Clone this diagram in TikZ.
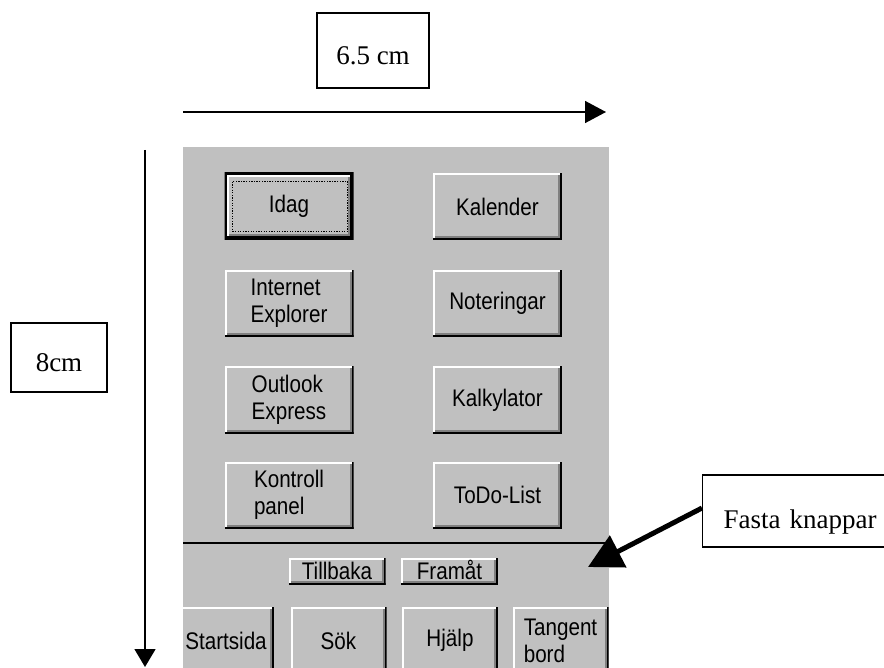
\documentclass[tikz,border=0pt]{standalone}
\usepackage{fontspec}
\setmainfont{Liberation Serif}
\newfontfamily\btnfont[FakeStretch=0.86]{Liberation Sans}
\usetikzlibrary{arrows.meta,calc}
\definecolor{wingray}{HTML}{C0C0C0}
\definecolor{windark}{HTML}{808080}
\newcommand\mybevel[1]{%
  \coordinate (bSW) at ($(path picture bounding box.south west)+(#1,#1)$);
  \coordinate (bNE) at ($(path picture bounding box.north east)+(-#1,-#1)$);
  \coordinate (bSE) at (bSW -| bNE);
  \coordinate (bNW) at (bSW |- bNE);
  \fill[white] (bNW) rectangle ($(bNE)+(-2pt,-2pt)$);
  \fill[white] (bNW) rectangle ($(bSW)+(2pt,2pt)$);
  \fill[black] (bSW) rectangle ($(bSE)+(0pt,2pt)$);
  \fill[black] (bSE) rectangle ($(bNE)+(-2pt,0pt)$);
  \fill[windark] ($(bSW)+(2pt,2pt)$) rectangle ($(bSE)+(-2pt,4pt)$);
  \fill[windark] ($(bSE)+(-2pt,2pt)$) rectangle ($(bNE)+(-4pt,-2pt)$);
}
\begin{document}
\begin{tikzpicture}[x=1pt,y=-1pt,
  lbl/.style={draw=black, line width=1.3pt, fill=white, inner sep=0pt,
    font=\fontsize{27}{30}\selectfont},
  btn/.style={fill=wingray, inner sep=0pt, align=left,
    font=\btnfont\fontsize{24}{27}\selectfont, path picture={\mybevel{0pt}}},
  bigbtn/.style={btn, minimum width=129pt, minimum height=67pt},
  smallbtn/.style={btn, minimum width=97pt, minimum height=27pt,
    text height=16pt, text depth=0pt},
  barbtn/.style={btn, minimum width=96pt, minimum height=67pt},
  defbtn/.style={bigbtn, path picture={%
    \draw[black,line width=4pt] (path picture bounding box.south west)
      rectangle (path picture bounding box.north east);
    \mybevel{2pt}}},
  dimarrow/.style={line width=1.5pt}
]
\useasboundingbox (0,0) rectangle (884,668);

% dimension labels
\node[lbl, minimum width=112pt, minimum height=75pt, text height=29pt, text depth=0pt]
  (w65) at (373,50.5) {6.5 cm};
\node[lbl, minimum width=96pt, minimum height=69pt, text height=29pt, text depth=0pt]
  (h8) at (59,357.5) {8cm};

\coordinate (hs) at (183,112);
\coordinate (he) at (606,112);
\draw[dimarrow, -{Triangle[length=21pt,width=22pt]}] (hs) -- (he);
\coordinate (vs) at (145,150);
\coordinate (ve) at (145,667);
\draw[dimarrow, -{Triangle[length=18pt,width=21pt]}] (vs) -- (ve);

% panel
\begin{scope}
\clip (183,147) rectangle (609,668);
\fill[wingray] (183,147) rectangle (609,668);
\draw[line width=2pt] (183,543) -- (609,543);
\node[defbtn] (idag) at (289,206.5) {Idag};
\node[bigbtn] (kal) at (497.5,206.5) {Kalender};
\node[bigbtn] (ie) at (289,303.5) {Internet\\Explorer};
\node[bigbtn] (noter) at (497.5,303.5) {Noteringar};
\node[bigbtn] (oe) at (289,400) {Outlook\\Express};
\node[bigbtn] (kalk) at (497.5,400) {Kalkylator};
\node[bigbtn] (kp) at (289,495) {Kontroll\\panel};
\node[bigbtn] (todo) at (497.5,495) {ToDo-List};
\node[smallbtn] (tb) at (337,571.5) {Tillbaka};
\node[smallbtn] (fr) at (449.5,571.5) {Framåt};
\node[barbtn] (start) at (226,640.5) {Startsida};
\node[barbtn] (sok) at (338.5,640.5) {Sök};
\node[barbtn] (hj) at (450,640.5) {Hjälp};
\node[barbtn] (tang) at (560.5,640.5) {Tangent\\bord};
\draw[dash pattern=on 1.3pt off 1.3pt, line width=1.3pt]
  ([shift={(8pt,-9pt)}]idag.north west) rectangle ([shift={(-6pt,9pt)}]idag.south east);
\end{scope}

% callout
\node[lbl, anchor=west, text width=180pt, inner xsep=21pt, align=left,
  minimum height=72pt, text height=34pt, text depth=0pt] (fk) at (702,511) {Fasta knappar};
\coordinate (fkTip) at (588,567);
\draw[line width=5pt, -{Triangle[length=34pt,width=35pt]}] ([yshift=3pt]fk.west) -- (fkTip);
\end{tikzpicture}
\end{document}
